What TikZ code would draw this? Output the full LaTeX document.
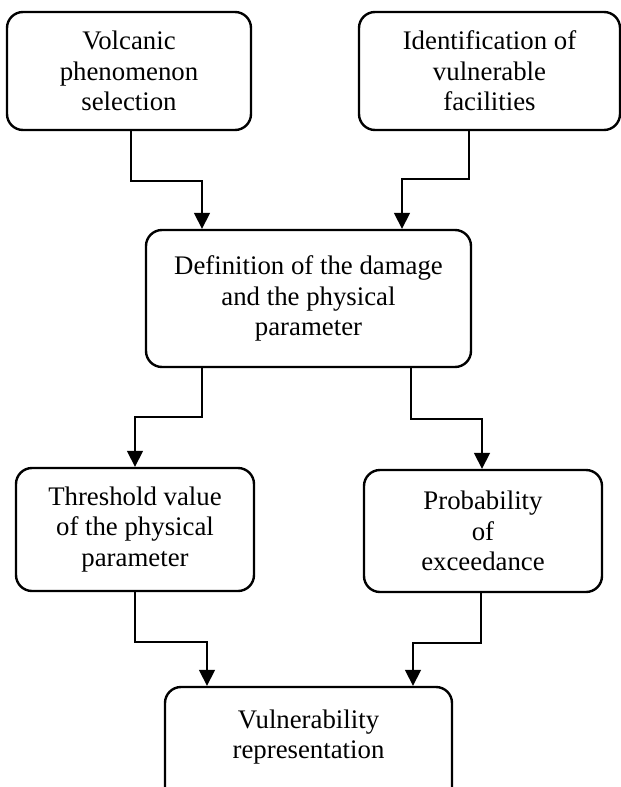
\documentclass[tikz,border=0pt]{standalone}
\usepackage{fontspec}
\setmainfont{Liberation Serif}
\usetikzlibrary{arrows.meta}
\begin{document}
\begin{tikzpicture}[x=1pt,y=-1pt,
  box/.style={draw, line width=2.4pt, rounded corners=16pt, inner sep=0pt, align=center,
    font=\fontsize{26.8}{30.5}\selectfont},
  txt/.style={inner sep=0pt, align=center, font=\fontsize{26.8}{30.5}\selectfont},
  arr/.style={line width=1.7pt, -{Triangle[width=16pt,length=16pt]}}]
\useasboundingbox (0,0) rectangle (621,787);
\clip (0,0) rectangle (621,787);
\node[box, minimum width=244pt, minimum height=118pt] (b1) at (129,71) {Volcanic\\phenomenon\\selection};
\node[box, minimum width=261pt, minimum height=118pt] (b2) at (489.5,71) {Identification of\\vulnerable\\facilities};
\node[box, minimum width=325pt, minimum height=137pt] (b3) at (308.5,298.5) {Definition of the damage\\and the physical\\parameter};
\node[box, minimum width=238pt, minimum height=123pt] (b4) at (135,529.5) {Threshold value\\of the physical\\parameter};
\node[box, minimum width=238pt, minimum height=122pt] (b5) at (483,531) {Probability\\of\\exceedance};
\node[box, minimum width=287pt, minimum height=130pt] (b6) at (308.5,752) {};
\node[txt] (t6) at (308.5,737) {Vulnerability\\representation};
\draw[arr] ([xshift=2pt]b1.south) -- ++(0,50) -| ([xshift=-106.5pt]b3.north);
\draw[arr] ([xshift=-20.5pt]b2.south) -- ++(0,48) -| ([xshift=93.5pt]b3.north);
\draw[arr] ([xshift=-106.5pt]b3.south) -- ++(0,49) -| (b4.north);
\draw[arr] ([xshift=102.5pt]b3.south) -- ++(0,51) -| ([xshift=-1pt]b5.north);
\draw[arr] (b4.south) -- ++(0,50) -| ([xshift=-101.5pt]b6.north);
\draw[arr] ([xshift=-2pt]b5.south) -- ++(0,50) -| ([xshift=104.5pt]b6.north);
\end{tikzpicture}
\end{document}
